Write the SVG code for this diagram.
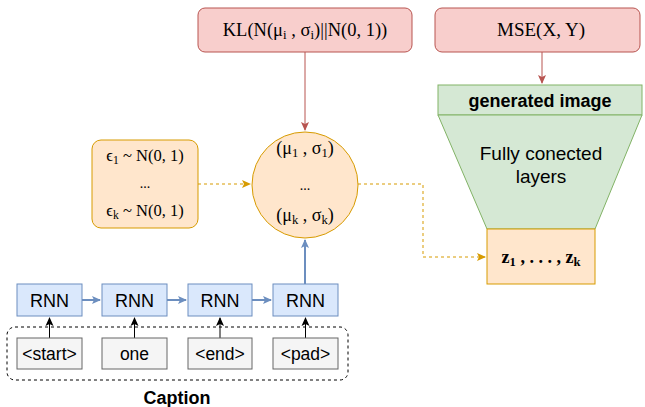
<svg xmlns="http://www.w3.org/2000/svg" width="645" height="407" viewBox="0 0 645 407">
<defs>
<style>
.rnn{fill:#dae8fc;stroke:#6c8ebf;stroke-width:1}
.tok{fill:#f5f5f5;stroke:#666666;stroke-width:1}
.red{fill:#f8cecc;stroke:#b85450;stroke-width:1}
.org{fill:#ffe6cc;stroke:#d79b00;stroke-width:1}
.grn{fill:#d5e8d4;stroke:#82b366;stroke-width:1}
.sans{font-family:"Liberation Sans",Arial,sans-serif;fill:#000}
.serif{font-family:"Liberation Serif","Times New Roman",serif;fill:#000}
.sub{font-size:70%}
</style>
<marker id="aBlue" markerWidth="10" markerHeight="10" refX="8" refY="5" orient="auto" markerUnits="userSpaceOnUse"><path d="M0,1 L9,5 L0,9 L2,5 Z" fill="#6c8ebf"/></marker>
<marker id="aBlack" markerWidth="10" markerHeight="10" refX="8" refY="5" orient="auto" markerUnits="userSpaceOnUse"><path d="M0,1 L9,5 L0,9 L2,5 Z" fill="#000"/></marker>
<marker id="aRed" markerWidth="10" markerHeight="10" refX="8" refY="5" orient="auto" markerUnits="userSpaceOnUse"><path d="M0,1 L9,5 L0,9 L2,5 Z" fill="#b85450"/></marker>
<marker id="aOrg" markerWidth="10" markerHeight="10" refX="8" refY="5" orient="auto" markerUnits="userSpaceOnUse"><path d="M0,1 L9,5 L0,9 L2,5 Z" fill="#d79b00"/></marker>
</defs>
<rect width="645" height="407" fill="#fff"/>

<g id="caption-group">
<rect x="7" y="327" width="341" height="53" rx="8" fill="none" stroke="#000" stroke-dasharray="3,3"/>
<text x="177" y="404" class="sans" font-size="18" font-weight="bold" text-anchor="middle">Caption</text>
</g>

<g id="connectors" fill="none">
<path d="M82,300 L100,300" stroke="#6c8ebf" stroke-width="2" marker-end="url(#aBlue)"/>
<path d="M167,300 L186,300" stroke="#6c8ebf" stroke-width="2" marker-end="url(#aBlue)"/>
<path d="M252,300 L271,300" stroke="#6c8ebf" stroke-width="2" marker-end="url(#aBlue)"/>
<path d="M305,284 L305,240" stroke="#6c8ebf" stroke-width="2" marker-end="url(#aBlue)"/>
<path d="M49.5,338 L49.5,318" stroke="#000" marker-end="url(#aBlack)"/>
<path d="M134.5,338 L134.5,318" stroke="#000" marker-end="url(#aBlack)"/>
<path d="M220,338 L220,318" stroke="#000" marker-end="url(#aBlack)"/>
<path d="M305.5,338 L305.5,318" stroke="#000" marker-end="url(#aBlack)"/>
<path d="M305,52 L305,130" stroke="#b85450" marker-end="url(#aRed)"/>
<path d="M542,52 L542,83" stroke="#b85450" marker-end="url(#aRed)"/>
<path d="M198,184 L250,184" stroke="#d79b00" stroke-dasharray="3,3" marker-end="url(#aOrg)"/>
<path d="M358,184 L423,184 L423,257 L485,257" stroke="#d79b00" stroke-dasharray="3,3" marker-end="url(#aOrg)"/>
</g>

<g id="rnn1"><rect class="rnn" x="17" y="284" width="65" height="32"/><text x="49.5" y="306.5" class="sans" font-size="18" text-anchor="middle">RNN</text></g>
<g id="rnn2"><rect class="rnn" x="102" y="284" width="65" height="32"/><text x="134.5" y="306.5" class="sans" font-size="18" text-anchor="middle">RNN</text></g>
<g id="rnn3"><rect class="rnn" x="188" y="284" width="64" height="32"/><text x="220" y="306.5" class="sans" font-size="18" text-anchor="middle">RNN</text></g>
<g id="rnn4"><rect class="rnn" x="273" y="284" width="65" height="32"/><text x="305.5" y="306.5" class="sans" font-size="18" text-anchor="middle">RNN</text></g>

<g id="tok1"><rect class="tok" x="17" y="338" width="65" height="31"/><text x="49.5" y="360" class="sans" font-size="17.5" text-anchor="middle">&lt;start&gt;</text></g>
<g id="tok2"><rect class="tok" x="102" y="338" width="65" height="31"/><text x="134.5" y="360" class="sans" font-size="17.5" text-anchor="middle">one</text></g>
<g id="tok3"><rect class="tok" x="188" y="338" width="64" height="31"/><text x="220" y="360" class="sans" font-size="17.5" text-anchor="middle">&lt;end&gt;</text></g>
<g id="tok4"><rect class="tok" x="273" y="338" width="65" height="31"/><text x="305.5" y="360" class="sans" font-size="17.5" text-anchor="middle">&lt;pad&gt;</text></g>

<g id="kl"><rect class="red" x="198" y="8" width="214" height="44" rx="7"/>
<text x="305" y="36" class="serif" font-size="18.5" text-anchor="middle">KL(N(μ<tspan class="sub" dy="3">i</tspan><tspan dy="-3"> , σ</tspan><tspan class="sub" dy="3">i</tspan><tspan dy="-3">)||N(0, 1))</tspan></text></g>

<g id="mse"><rect class="red" x="435" y="8" width="205" height="44" rx="7"/>
<text x="541" y="36" class="serif" font-size="19" text-anchor="middle">MSE(X, Y)</text></g>

<g id="generated"><rect class="grn" x="438" y="85" width="204" height="30"/>
<text x="540" y="107" class="sans" font-size="18" font-weight="bold" text-anchor="middle">generated image</text></g>

<g id="fc"><polygon class="grn" points="438,115 642,115 595,229 487,229"/>
<text x="541" y="160" class="sans" font-size="19" text-anchor="middle">Fully conected</text>
<text x="541" y="183" class="sans" font-size="19" text-anchor="middle">layers</text></g>

<g id="z"><rect class="org" x="487" y="229" width="108" height="55"/>
<text x="541" y="263" class="serif" font-size="18" font-weight="bold" text-anchor="middle">z<tspan class="sub" dy="3">1</tspan><tspan dy="-3"> , . . . , z</tspan><tspan class="sub" dy="3">k</tspan></text></g>

<g id="eps"><rect class="org" x="92" y="140" width="106" height="88" rx="9"/>
<text x="145" y="161" class="serif" font-size="16.5" text-anchor="middle">ϵ<tspan class="sub" dy="3">1</tspan><tspan dy="-3"> ~ N(0, 1)</tspan></text>
<text x="145" y="188" class="serif" font-size="14" text-anchor="middle">...</text>
<text x="145" y="216" class="serif" font-size="16.5" text-anchor="middle">ϵ<tspan class="sub" dy="3">k</tspan><tspan dy="-3"> ~ N(0, 1)</tspan></text></g>

<g id="latent"><circle class="org" cx="305" cy="185" r="53"/>
<text x="305" y="154" class="serif" font-size="18" text-anchor="middle">(μ<tspan class="sub" dy="3">1</tspan><tspan dy="-3"> , σ</tspan><tspan class="sub" dy="3">1</tspan><tspan dy="-3">)</tspan></text>
<text x="305" y="190" class="serif" font-size="14" text-anchor="middle">...</text>
<text x="305" y="221" class="serif" font-size="18" text-anchor="middle">(μ<tspan class="sub" dy="3">k</tspan><tspan dy="-3"> , σ</tspan><tspan class="sub" dy="3">k</tspan><tspan dy="-3">)</tspan></text></g>
</svg>
